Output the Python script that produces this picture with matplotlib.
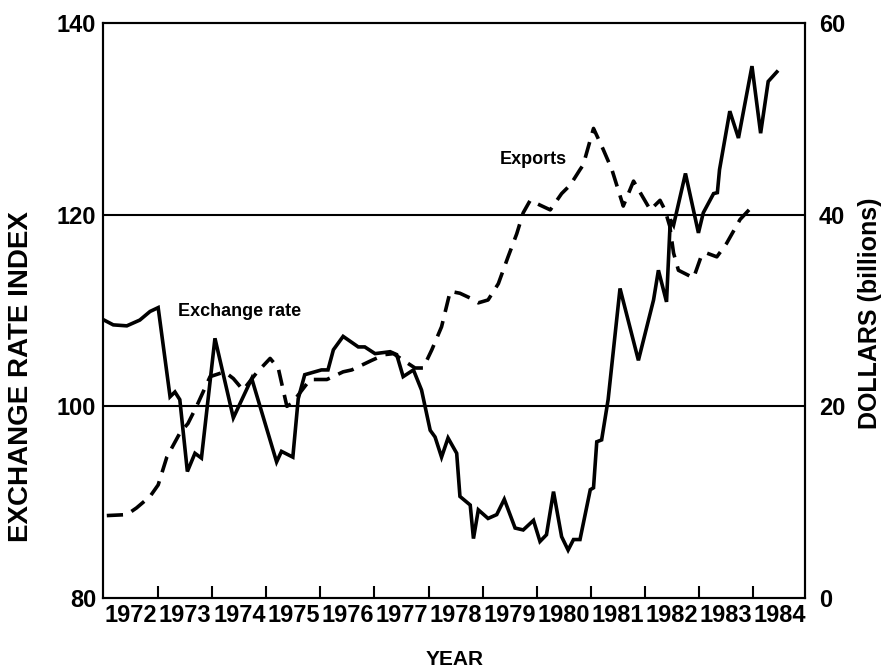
import matplotlib
matplotlib.use("Agg")
import matplotlib.pyplot as plt

# --- data ---
rate_years = [1972.0, 1972.17, 1972.42, 1972.66, 1972.85, 1973.0, 1973.22, 1973.31, 1973.40,
              1973.54, 1973.68, 1973.80, 1974.05, 1974.39, 1974.73, 1975.19, 1975.28, 1975.49,
              1975.59, 1975.71, 1976.02, 1976.14, 1976.24, 1976.42, 1976.70, 1976.82, 1977.01,
              1977.29, 1977.41, 1977.53, 1977.72, 1977.87, 1978.03, 1978.12, 1978.24, 1978.36,
              1978.52, 1978.58, 1978.77, 1978.83, 1978.92, 1979.10, 1979.26, 1979.40, 1979.60,
              1979.75, 1979.94, 1980.06, 1980.18, 1980.31, 1980.46, 1980.58, 1980.68, 1980.80,
              1980.99, 1981.05, 1981.11, 1981.20, 1981.32, 1981.54, 1981.88, 1982.16, 1982.25,
              1982.40, 1982.47, 1982.53, 1982.75, 1982.99, 1983.08, 1983.27, 1983.34, 1983.38,
              1983.57, 1983.73, 1983.98, 1984.14, 1984.28, 1984.44]
rate_index = [109.0, 108.5, 108.4, 109.0, 109.9, 110.3, 101.0, 101.5, 100.7,
              93.2, 95.1, 94.6, 107.1, 98.8, 102.9, 94.2, 95.3, 94.7,
              100.8, 103.3, 103.8, 103.8, 105.9, 107.3, 106.2, 106.2, 105.5,
              105.7, 105.4, 103.1, 103.8, 101.7, 97.5, 96.8, 94.7, 96.7,
              95.1, 90.6, 89.7, 86.2, 89.2, 88.3, 88.7, 90.3, 87.3,
              87.1, 88.1, 85.9, 86.6, 91.1, 86.4, 85.0, 86.1, 86.1,
              91.3, 91.5, 96.3, 96.5, 100.7, 112.3, 104.8, 111.1, 114.2,
              110.9, 119.5, 118.9, 124.3, 118.1, 120.2, 122.2, 122.3, 124.7,
              130.8, 128.0, 135.5, 128.5, 133.9, 134.9]

export_years = [1972.05, 1972.42, 1972.60, 1972.85, 1973.0, 1973.16, 1973.40, 1973.55, 1973.71,
                1973.96, 1974.23, 1974.39, 1974.57, 1974.82, 1975.07, 1975.22, 1975.38, 1975.47,
                1975.62, 1975.81, 1976.12, 1976.42, 1976.58, 1976.95, 1977.19, 1977.35, 1977.56,
                1977.75, 1977.90, 1978.06, 1978.24, 1978.40, 1978.58, 1978.77, 1978.92, 1979.10,
                1979.29, 1979.47, 1979.63, 1979.75, 1979.88, 1980.06, 1980.25, 1980.46, 1980.62,
                1980.80, 1980.86, 1981.05, 1981.23, 1981.39, 1981.60, 1981.79, 1982.10, 1982.28,
                1982.37, 1982.46, 1982.53, 1982.62, 1982.90, 1983.05, 1983.14, 1983.33, 1983.51,
                1983.76, 1984.04]
export_bn = [8.6, 8.7, 9.4, 10.6, 11.8, 14.7, 17.2, 18.2, 20.0,
             23.1, 23.6, 22.9, 21.7, 23.5, 25.0, 24.0, 20.0, 20.3,
             21.4, 22.8, 22.8, 23.6, 23.8, 24.8, 25.4, 25.5, 24.7,
             24.0, 24.0, 25.9, 28.3, 32.0, 31.8, 31.3, 30.8, 31.1,
             32.8, 35.6, 38.0, 40.2, 41.5, 41.0, 40.5, 42.2, 43.1,
             44.7, 45.2, 49.0, 46.8, 44.7, 40.9, 43.5, 40.5, 41.5,
             40.5, 38.8, 36.0, 34.2, 33.4, 35.8, 36.0, 35.6, 37.0,
             39.5, 41.2]

year_labels = [str(y) for y in range(1972, 1985)]
left_ticks = [80, 100, 120, 140]
right_ticks = [0, 20, 40, 60]

plt.rcParams["font.family"] = ["Liberation Sans", "DejaVu Sans"]
plt.rcParams["font.weight"] = "bold"

fig = plt.figure(figsize=(8.88, 6.71), dpi=100)
ax = fig.add_axes([0.116, 0.1088, 0.7905, 0.8569])
ax2 = ax.twinx()

for y in (100, 120):
    ax.axhline(y, color="black", lw=1.5, zorder=1)

ax.plot(rate_years, rate_index, color="black", lw=2.6, solid_joinstyle="miter", zorder=3)
ax2.plot(export_years, export_bn, color="black", lw=2.6, linestyle=(0, (4.5, 2.6)), zorder=3)

ax.set_xlim(1971.98, 1984.96)
ax.set_ylim(80, 140)
ax2.set_ylim(0, 60)

# marcas en los limites de año, etiquetas centradas en cada año
ax.set_xticks(range(1973, 1985))
ax.set_xticklabels([])
ax.set_xticks([y + 0.5 for y in range(1972, 1985)], minor=True)
ax.set_xticklabels(year_labels, minor=True, fontsize=17, fontweight="bold")
ax.tick_params(axis="x", which="major", direction="in", length=9, width=1.5)
ax.tick_params(axis="x", which="minor", length=0, pad=4)

ax.set_yticks(left_ticks)
ax.set_yticklabels([str(v) for v in left_ticks], fontsize=17, fontweight="bold")
ax.tick_params(axis="y", length=0, pad=5)
ax2.set_yticks(right_ticks)
ax2.set_yticklabels([str(v) for v in right_ticks], fontsize=17, fontweight="bold")
ax2.tick_params(axis="y", length=0, pad=10)

for a in (ax, ax2):
    for s in a.spines.values():
        s.set_linewidth(1.5)

ax.set_ylabel("EXCHANGE RATE INDEX", fontsize=20, fontweight="bold")
ax.yaxis.set_label_coords(-0.099, 0.385)
ax2.set_ylabel("DOLLARS (billions)", fontsize=18, fontweight="bold")
ax2.yaxis.set_label_coords(1.075, 0.495)
ax.set_xlabel("YEAR", fontsize=15, fontweight="bold")
ax.xaxis.set_label_coords(0.501, -0.09)

ax.text(1973.36, 109.9, "Exchange rate", fontsize=13, fontweight="bold", ha="left", va="center")
ax.text(1979.32, 125.8, "Exports", fontsize=13, fontweight="bold", ha="left", va="center")

fig.savefig("out.png", dpi=100)
